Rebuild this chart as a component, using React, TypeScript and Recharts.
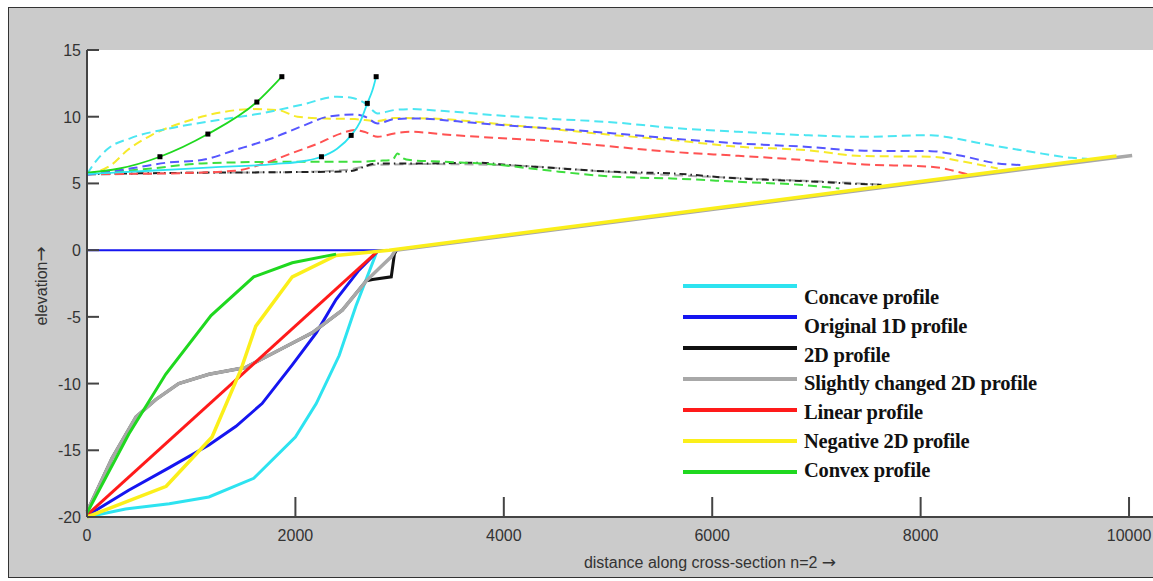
import React from "react";
import {
  ComposedChart,
  Line,
  Scatter,
  XAxis,
  YAxis,
  CartesianGrid,
  Label,
} from "recharts";

type Pt = { x: number; y: number };
const P = (pairs: number[][]): Pt[] => pairs.map(([x, y]) => ({ x, y }));

/* --- profiles below the surface (solid) --- */
const concaveLow = P([[0, -20], [370, -19.4], [790, -19.0], [1170, -18.5], [1600, -17.1], [2000, -14.0], [2200, -11.5], [2420, -7.9], [2580, -4.2], [2780, -0.15]]);
const original1DLow = P([[0, -19.9], [400, -18.0], [790, -16.3], [1170, -14.6], [1430, -13.2], [1680, -11.5], [1970, -8.6], [2200, -6.2], [2390, -3.7], [2610, -1.5], [2780, -0.15]]);
const twoDLow = P([[0, -19.6], [240, -15.6], [470, -12.5], [660, -11.2], [880, -10.0], [1170, -9.3], [1520, -8.8], [1840, -7.5], [2160, -6.2], [2450, -4.5], [2680, -2.3], [2740, -2.2], [2920, -2.0], [2950, -0.3], [2970, 0]]);
const slightLow = P([[0, -19.6], [240, -15.6], [470, -12.5], [660, -11.2], [880, -10.0], [1170, -9.3], [1520, -8.8], [1840, -7.5], [2160, -6.2], [2450, -4.5], [2680, -2.3], [2800, -1.4], [2920, -0.5], [2960, 0], [10030, 7.1]]);
const linearLow = P([[0, -19.85], [2780, -0.15]]);
const negativeLow = P([[0, -20], [760, -17.7], [1200, -14.0], [1475, -9.0], [1620, -5.7], [1970, -2.0], [2390, -0.4], [2780, -0.1], [2900, 0], [9880, 7.05]]);
const convexLow = P([[0, -19.7], [400, -13.8], [755, -9.3], [1190, -4.9], [1600, -2.0], [1970, -0.95], [2390, -0.3]]);
const zeroLine = P([[0, 0], [2900, 0]]);

/* --- thin solid curves with markers --- */
const convexUp = P([[0, 5.8], [300, 6.1], [700, 7.0], [1160, 8.7], [1630, 11.1], [1870, 13.0]]);
const convexDots = P([[700, 7.0], [1160, 8.7], [1630, 11.1], [1870, 13.0]]);
const concaveUp = P([[0, 5.7], [600, 5.95], [1200, 6.2], [1800, 6.45], [2100, 6.7], [2250, 7.0], [2400, 7.6], [2535, 8.6], [2620, 9.6], [2690, 11.0], [2740, 12.0], [2775, 13.0]]);
const concaveDots = P([[2250, 7.0], [2535, 8.6], [2690, 11.0], [2775, 13.0]]);

/* --- dashed surfaces --- */
const concaveDash = P([[0, 5.7], [60, 6.4], [200, 7.6], [420, 8.4], [780, 9.1], [1260, 9.75], [1670, 10.25], [2060, 10.9], [2400, 11.5], [2550, 11.4], [2670, 11.0], [2790, 10.25], [2950, 10.5], [3110, 10.57], [3430, 10.42], [3910, 10.12], [4390, 9.87], [5060, 9.57], [5610, 9.17], [6250, 8.87], [6890, 8.62], [7460, 8.5], [8100, 8.62], [8230, 8.5], [8580, 8.0], [9060, 7.37], [9450, 6.92], [9600, 6.85]]);
const original1DDash = P([[0, 5.65], [460, 6.17], [780, 6.57], [1100, 6.75], [1420, 7.5], [1770, 8.37], [2090, 9.37], [2310, 10.0], [2570, 10.17], [2670, 10.0], [2790, 9.5], [2950, 9.82], [3180, 9.87], [3590, 9.62], [4070, 9.32], [4550, 9.07], [5060, 8.75], [5610, 8.37], [6250, 8.0], [6890, 7.75], [7460, 7.45], [8100, 7.42], [8360, 7.12], [8740, 6.5], [8970, 6.37]]);
const negativeDash = P([[0, 5.7], [230, 6.37], [390, 7.5], [620, 8.62], [940, 9.62], [1320, 10.37], [1580, 10.57], [1830, 10.5], [2020, 10.0], [2280, 9.87], [2570, 9.82], [2790, 9.67], [2950, 9.9], [3270, 9.87], [4070, 9.37], [5060, 8.62], [5610, 8.25], [6250, 7.75], [6890, 7.5], [7460, 7.05], [8100, 7.0], [8420, 6.62], [8740, 6.12]]);
const linearDash = P([[0, 5.7], [780, 5.75], [1420, 5.95], [1700, 6.5], [1960, 7.25], [2220, 8.0], [2440, 8.75], [2570, 9.0], [2660, 8.87], [2790, 8.5], [2950, 8.75], [3110, 8.87], [3430, 8.67], [3910, 8.42], [4550, 8.12], [5060, 7.75], [5610, 7.37], [6250, 7.07], [6890, 6.75], [7460, 6.42], [8100, 6.25], [8420, 5.75], [8500, 5.6]]);
const convexDash = P([[0, 5.75], [620, 6.12], [1100, 6.5], [1900, 6.62], [2570, 6.62], [2790, 6.7], [2930, 6.75], [2980, 7.25], [3030, 6.9], [3100, 6.75], [3430, 6.62], [3910, 6.42], [4390, 6.0], [5060, 5.5], [5610, 5.37], [6250, 5.12], [6890, 4.87], [7220, 4.62]]);
const twoDDash = P([[0, 5.7], [1000, 5.8], [2000, 5.85], [2500, 5.9], [2790, 6.5], [3270, 6.5], [3750, 6.55], [4070, 6.37], [4550, 6.12], [5060, 5.87], [5610, 5.75], [6250, 5.37], [6890, 5.17], [7530, 4.92], [7625, 4.9]]);
const slightDash = P([[0, 5.65], [1000, 5.8], [2000, 5.85], [2470, 6.0], [2790, 6.4], [3270, 6.45], [4070, 6.35], [5060, 5.85], [6250, 5.4], [7530, 4.95], [7625, 4.9]]);

const xTicks = [0, 2000, 4000, 6000, 8000, 10000];
const yTicks = [-20, -15, -10, -5, 0, 5, 10, 15];

const legendLabels = [
  "Concave profile",
  "Original 1D profile",
  "2D profile",
  "Slightly changed 2D profile",
  "Linear profile",
  "Negative 2D profile",
  "Convex profile",
];
const legendColors = ["#2de3f0", "#1515f0", "#111111", "#a8a8a8", "#ff1a1a", "#fbef1a", "#1fd81f"];

const AXIS = "#444";
const SANS = "'Liberation Sans', Arial, sans-serif";
const TICK_FONT = { fontFamily: SANS, fontSize: 16, fill: "#333" };

const YTick = (props: any) => {
  const { x, y, payload } = props;
  return (
    <g>
      <line x1={x + 6} x2={x + 18} y1={y} y2={y} stroke={AXIS} strokeWidth={2} />
      <text x={x} y={y + 6} textAnchor="end" {...TICK_FONT}>{payload.value}</text>
    </g>
  );
};

const XTick = (props: any) => {
  const { x, y, payload } = props;
  return (
    <g>
      {payload.value !== 0 && <line x1={x} x2={x} y1={y - 12} y2={y - 32} stroke={AXIS} strokeWidth={2} />}
      <text x={x} y={y + 12} textAnchor="middle" {...TICK_FONT}>{payload.value}</text>
    </g>
  );
};

const square = (props: any) => (
  <rect x={props.cx - 2.5} y={props.cy - 2.5} width={5} height={5} fill="#000" />
);

export default function App() {
  const solid = (data: Pt[], color: string, w = 3, curve: "linear" | "monotone" = "linear") => (
    <Line data={data} dataKey="y" type={curve} stroke={color} strokeWidth={w} dot={false} isAnimationActive={false} />
  );
  const dashed = (data: Pt[], color: string, dash = "9 5") => (
    <Line data={data} dataKey="y" type="monotone" stroke={color} strokeWidth={2} strokeDasharray={dash} dot={false} isAnimationActive={false} />
  );

  return (
    <div style={{ position: "absolute", left: 0, top: 0, width: 1153, height: 581, background: "#fff", overflow: "hidden" }}>
      <div
        style={{
          position: "absolute",
          left: 8,
          top: 7,
          width: 1150,
          height: 569,
          background: "#cbcbcb",
          borderLeft: "1px solid #333",
          borderTop: "1px solid #333",
          borderBottom: "1px solid #333",
        }}
      />
      <div style={{ position: "absolute", left: 0, top: 0 }}>
        <ComposedChart width={1153} height={581} margin={{ top: 50, right: 0, bottom: 0, left: 0 }}>
          <CartesianGrid horizontal={false} vertical={false} fill="#fff" />
          <XAxis
            dataKey="x"
            type="number"
            domain={[0, 10230]}
            ticks={xTicks}
            height={64}
            tickSize={0}
            tickMargin={12}
            tickLine={false}
            axisLine={{ stroke: AXIS, strokeWidth: 2 }}
            tick={<XTick />}
          >
            <Label
              content={() => (
                <text x={710} y={568} textAnchor="middle" fontFamily={SANS} fontSize={16} fill="#333">
                  distance along cross-section n=2{" "}
                  <tspan fontFamily="'DejaVu Sans', sans-serif" fontSize={17}>→</tspan>
                </text>
              )}
            />
          </XAxis>
          <YAxis
            dataKey="y"
            type="number"
            domain={[-20, 15]}
            ticks={yTicks}
            width={87}
            tickSize={0}
            tickMargin={6}
            tickLine={false}
            axisLine={{ stroke: AXIS, strokeWidth: 2 }}
            tick={<YTick />}
          >
            <Label
              content={() => (
                <text x={47} y={286} transform="rotate(-90 47 286)" textAnchor="middle" fontFamily={SANS} fontSize={16} fill="#333">
                  elevation
                  <tspan fontFamily="'DejaVu Sans', sans-serif" fontSize={18}>→</tspan>
                </text>
              )}
            />
          </YAxis>

          {/* dashed surfaces */}
          {dashed(slightDash, "#a8a8a8")}
          {dashed(twoDDash, "#222", "7 4 1.5 4")}
          {dashed(convexDash, "#3ede3e")}
          {dashed(linearDash, "#ff5252")}
          {dashed(negativeDash, "#f6ea2a")}
          {dashed(original1DDash, "#5656ff")}
          {dashed(concaveDash, "#4ce6f2")}

          {/* thin curves with markers */}
          {solid(convexUp, "#1fd81f", 1.8, "monotone")}
          {solid(concaveUp, "#2de3f0", 1.8, "monotone")}
          <Scatter data={convexDots} dataKey="y" shape={square} isAnimationActive={false} />
          <Scatter data={concaveDots} dataKey="y" shape={square} isAnimationActive={false} />

          {/* profiles */}
          {solid(zeroLine, "#1515f0", 2)}
          {solid(concaveLow, "#2de3f0")}
          {solid(original1DLow, "#1515f0")}
          {solid(twoDLow, "#111111")}
          {solid(slightLow, "#a8a8a8", 3.5)}
          {solid(linearLow, "#ff1a1a")}
          {solid(negativeLow, "#fbef1a", 3.5)}
          {solid(convexLow, "#1fd81f")}
        </ComposedChart>
      </div>

      {/* legend */}
      {legendLabels.map((label, i) => (
        <React.Fragment key={label}>
          <div
            style={{
              position: "absolute",
              left: 683,
              top: 284 + i * 31,
              width: 114,
              height: 4,
              background: legendColors[i],
            }}
          />
          <div
            style={{
              position: "absolute",
              left: 804,
              top: 285 + i * 28.8,
              fontFamily: "'Liberation Serif', 'Times New Roman', serif",
              fontWeight: "bold",
              fontSize: 20.5,
              lineHeight: "24px",
              letterSpacing: -0.2,
              color: "#111",
              whiteSpace: "nowrap",
            }}
          >
            {label}
          </div>
        </React.Fragment>
      ))}
    </div>
  );
}
